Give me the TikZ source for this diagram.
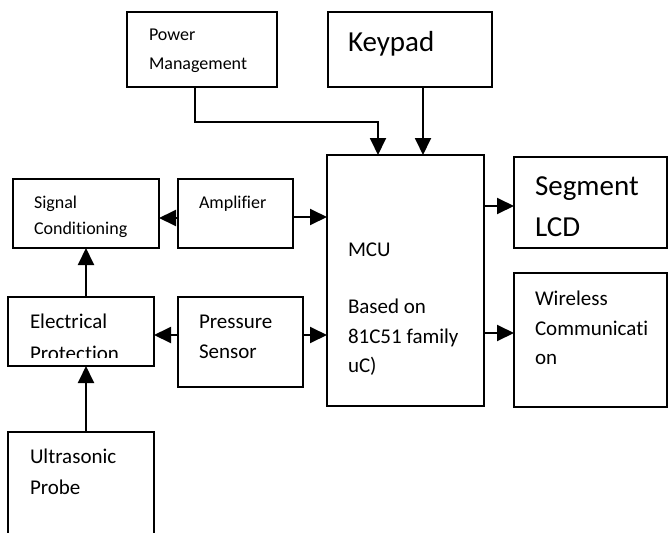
\documentclass[tikz,border=0pt]{standalone}
\usepackage{fontspec}
\setmainfont[Ligatures=NoCommon]{Carlito}
\usetikzlibrary{arrows.meta,calc}
\tikzset{
  box/.style={draw, line width=1.9pt, inner sep=0pt, outer sep=0pt, anchor=north west},
  txt/.style={anchor=base west, inner sep=0pt, outer sep=0pt},
  small/.style={txt, font=\fontsize{18}{22}\selectfont},
  mid/.style={txt, font=\fontsize{21}{25}\selectfont},
  big/.style={txt, font=\fontsize{29}{34}\selectfont},
  arr/.style={line width=1.9pt, -{Triangle[length=17pt,width=16pt]}}
}
\begin{document}
\begin{tikzpicture}[x=1pt,y=-1pt]
\useasboundingbox (0,0) rectangle (668,532);
% boxes
\node[box, minimum width=150pt, minimum height=75pt] (pm) at (127,12) {};
\node[box, minimum width=164pt, minimum height=75pt] (kp) at (328,12) {};
\node[box, minimum width=157pt, minimum height=251pt] (mcu) at (327,155) {};
\node[box, minimum width=153pt, minimum height=91pt] (seg) at (514,157) {};
\node[box, minimum width=153pt, minimum height=134pt] (wl) at (514,273) {};
\node[box, minimum width=146pt, minimum height=69pt] (sc) at (13,179) {};
\node[box, minimum width=115pt, minimum height=69pt] (amp) at (178,179) {};
\node[box, minimum width=146pt, minimum height=69pt] (ep) at (8,297) {};
\node[box, minimum width=125pt, minimum height=90pt] (ps) at (178,297) {};
\node[box, minimum width=146pt, minimum height=113pt] (us) at (8,432) {};
% texts
\node[small] (pm1) at (149,41) {Power};
\node[small] (pm2) at (149,70) {Management};
\node[big] (kp1) at (348,52) {Keypad};
\node[mid] (mcu1) at (348,256) {MCU};
\node[mid] (mcu2) at (348,313) {Based on};
\node[mid] (mcu3) at (348,343) {81C51 family};
\node[mid] (mcu4) at (348,372) {uC)};
\node[big] (seg1) at (535,195) {Segment};
\node[big] (seg2) at (535,236) {LCD};
\node[mid] (wl1) at (535,305) {Wireless};
\node[mid] (wl2) at (535,335) {Communicati};
\node[mid] (wl3) at (535,364) {on};
\node[small] (sc1) at (34,208) {Signal};
\node[small] (sc2) at (34,234) {Conditioning};
\node[small] (amp1) at (199,208) {Amplifier};
\node[mid] (ep1) at (30,328) {Electrical};
\begin{scope}
  \clip (8,297) rectangle (154,357);
  \node[mid] (ep2) at (30,360) {Protection};
\end{scope}
\node[mid] (ps1) at (199,328) {Pressure};
\node[mid] (ps2) at (199,358) {Sensor};
\node[mid] (us1) at (30,463) {Ultrasonic};
\node[mid] (us2) at (30,494) {Probe};
% connectors
\coordinate (pmo) at ([xshift=-7pt]pm.south);
\coordinate (pmi) at ([xshift=-27.5pt]mcu.north);
\draw[arr] (pmo) -- (pmo |- 0,122) -| (pmi);
\draw[arr] ([xshift=13pt]kp.south) -- ([xshift=13pt]kp.south |- mcu.north);
\draw[arr] (amp.west |- 0,218) -- (sc.east |- 0,218);
\draw[arr] (amp.east |- 0,217) -- (mcu.west |- 0,217);
\draw[arr] (ps.west |- 0,335) -- (ep.east |- 0,335);
\draw[arr] (ps.east |- 0,335) -- (mcu.west |- 0,335);
\draw[arr] (mcu.east |- 0,206) -- (seg.west |- 0,206);
\draw[arr] (mcu.east |- 0,333) -- (wl.west |- 0,333);
\draw[arr] (sc.south |- ep.north) -- (sc.south);
\draw[arr] (sc.south |- us.north) -- (sc.south |- ep.south);
\end{tikzpicture}
\end{document}
